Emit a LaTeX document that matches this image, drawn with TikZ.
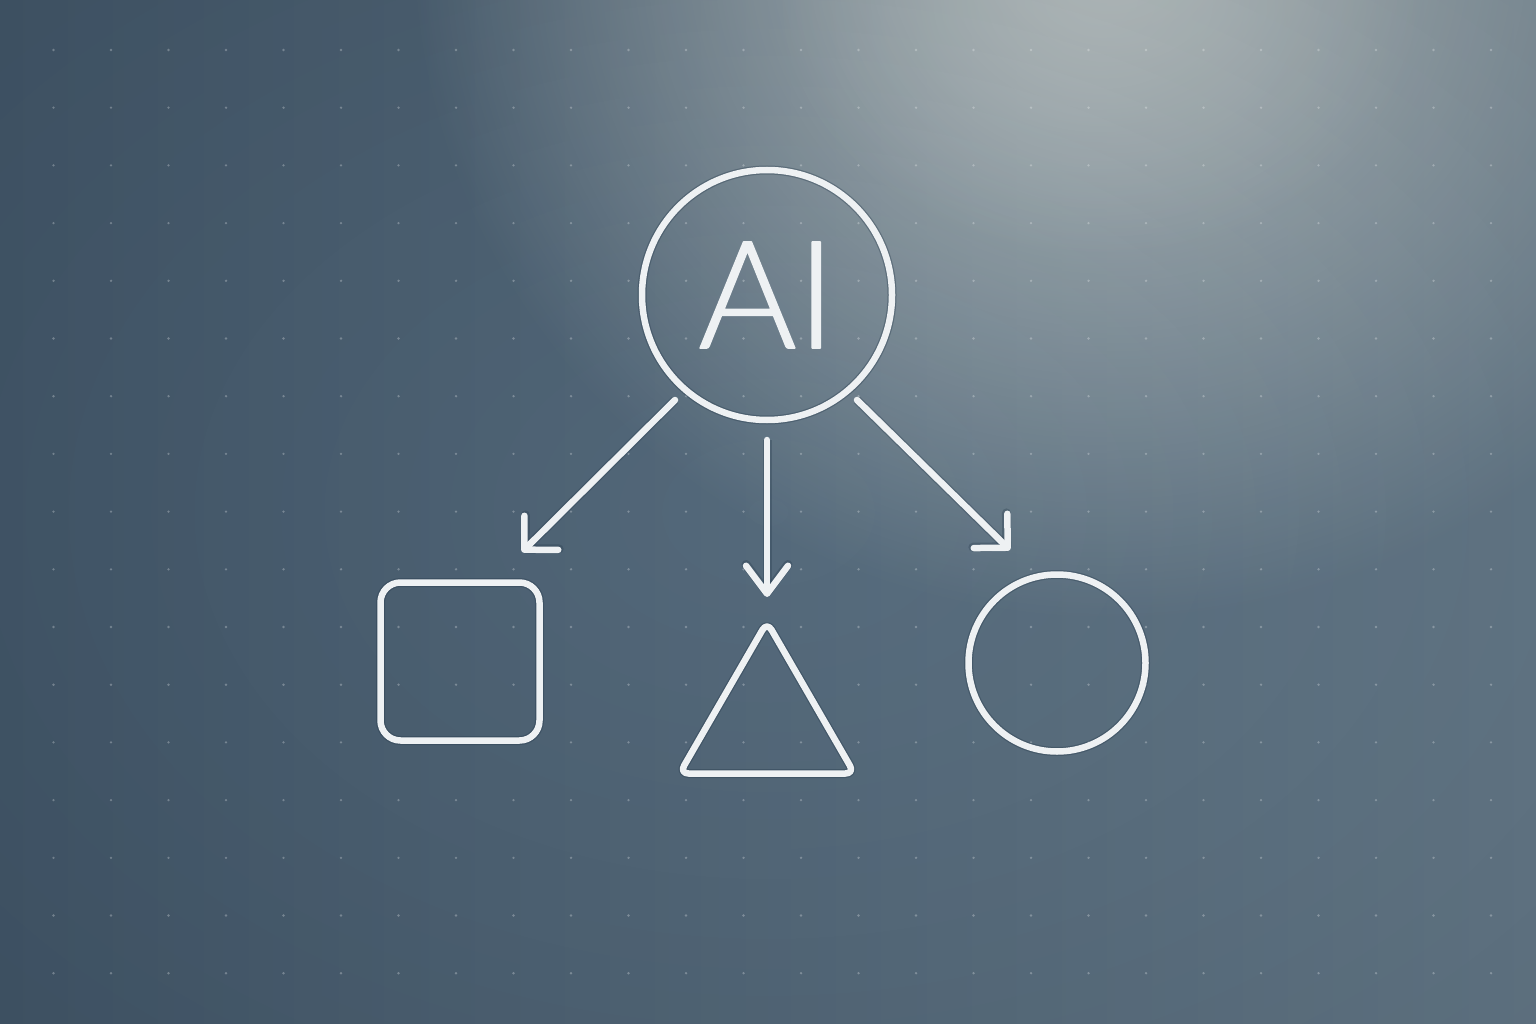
\documentclass[tikz,border=0pt]{standalone}
\usepackage{fontspec}
\setmainfont{Lato}[UprightFont=* Light, FakeBold=1.2]
\usetikzlibrary{arrows.meta,shapes.geometric,fadings}
\definecolor{bgleft}{HTML}{44596C}
\definecolor{bgmid}{HTML}{5A7387}
\definecolor{bgright}{HTML}{667B8B}
\definecolor{glow}{HTML}{BCC5C6}
\definecolor{ink}{HTML}{EEF1F3}
\definecolor{shade}{HTML}{24384A}
\tikzfading[name=glowfade, inner color=transparent!0, outer color=transparent!100]
\tikzfading[name=vigfade, inner color=transparent!100, outer color=transparent!0]
\tikzset{
  outline/.style={draw=ink, line width=6.5pt, line join=round, line cap=round,
    preaction={draw=shade, line width=9pt, draw opacity=0.35}},
  conn/.style={draw=ink, line width=6.5pt, line cap=round, line join=round,
    preaction={draw=shade, line width=9pt, draw opacity=0.3}},
  diagtip/.style={-{Straight Barb[round, length=24pt, width=48pt]}},
  vtip/.style={-{Straight Barb[round, length=28pt, width=42pt]}},
  dot/.style={fill=white, fill opacity=0.27}
}
\begin{document}
\begin{tikzpicture}[x=1pt, y=-1pt]
% background
\useasboundingbox (0,0) rectangle (1536,1024);
\shade[left color=bgleft, middle color=bgmid, right color=bgright] (0,0) rectangle (1536,1024);
\fill[glow, path fading=glowfade] (1110,-60) ellipse (700 and 680);
\fill[glow, opacity=0.5, path fading=glowfade] (1100,0) ellipse (330 and 260);
\fill[black, opacity=0.1, path fading=vigfade] (768,512) ellipse (1100 and 760);
% dot grid
\foreach \i in {0,...,26}{
  \foreach \j in {0,...,16}{
    \fill[dot] (53.5+57.5*\i, 50+57.7*\j) circle (1.3);
  }
}
% nodes
\node[outline, circle, minimum size=250pt, inner sep=0pt] (ai) at (767,295)
  {\fontsize{150}{150}\selectfont\color{ink}\raisebox{-2pt}{AI}};
\node[outline, rectangle, rounded corners=20pt, minimum width=159pt, minimum height=158pt, inner sep=0pt] (sq) at (460,661.5) {};
\node[outline, regular polygon, regular polygon sides=3, minimum size=202pt, inner sep=0pt, rounded corners=9pt] (tri) at (767,723) {};
\node[outline, circle, minimum size=177pt, inner sep=0pt] (ci) at (1057,663) {};
% connector ends
\coordinate (l1) at (675,400);
\coordinate (l2) at (522,552);
\coordinate (m1) at (767,440);
\coordinate (m2) at (767,597);
\coordinate (r1) at (857,400);
\coordinate (r2) at (1010,550);
\draw[conn, diagtip] (l1) -- (l2);
\draw[conn, vtip] (m1) -- (m2);
\draw[conn, diagtip] (r1) -- (r2);
\end{tikzpicture}
\end{document}
